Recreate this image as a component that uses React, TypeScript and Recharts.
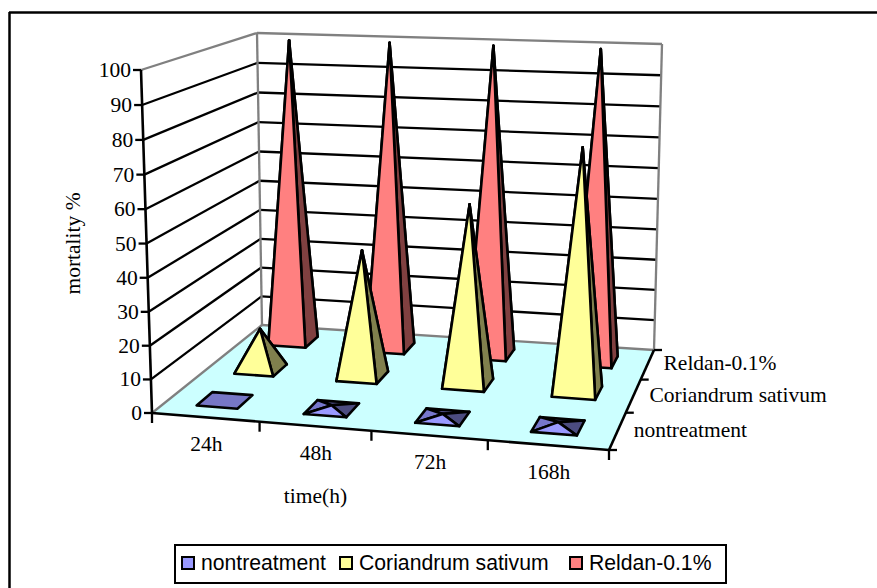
import React from 'react';
import { BarChart, Bar, XAxis, YAxis, Legend } from 'recharts';

const times = ['24h', '48h', '72h', '168h'];
const nontreatment = [0, 1, 1, 1.2];
const coriandrum = [13, 40, 56, 75];
const reldan = [100, 100, 100, 100];
const yTicks = [0, 10, 20, 30, 40, 50, 60, 70, 80, 90, 100];
const depthLabels = ['nontreatment', 'Coriandrum sativum', 'Reldan-0.1%'];

const data = times.map((time, i) => ({
  time,
  nontreatment: nontreatment[i],
  coriandrum: coriandrum[i],
  reldan: reldan[i],
}));

const W = 877;
const H = 588;
const PLOT = { left: 152, top: 70, width: 457, height: 343 };
const SERIF = '"Liberation Serif", serif';
const FONT_SIZE = 21.5;
const BAR = 44;

// floor corners: front left, front right, back right, back left
const Q = [[152, 413], [609, 450], [654, 350], [262, 325]];
// what 100% adds at each of those corners
const RISE = [[-11, -343], [12, -362], [8, -306], [-5, -292]];

const homography = () => {
  const [[x0, y0], [x1, y1], [x2, y2], [x3, y3]] = Q;
  const dx1 = x1 - x2, dx2 = x3 - x2, sx = x0 - x1 + x2 - x3;
  const dy1 = y1 - y2, dy2 = y3 - y2, sy = y0 - y1 + y2 - y3;
  const den = dx1 * dy2 - dx2 * dy1;
  const g = (sx * dy2 - dx2 * sy) / den;
  const h = (dx1 * sy - sx * dy1) / den;
  return {
    a: x1 - x0 + g * x1, b: x3 - x0 + h * x3, c: x0,
    d: y1 - y0 + g * y1, e: y3 - y0 + h * y3, f: y0, g, h,
  };
};
const M = homography();

// u along time axis, d into the depth, v = share of the value axis
const project = (u: number, d: number, v: number) => {
  const w = M.g * u + M.h * d + 1;
  const fx = (M.a * u + M.b * d + M.c) / w;
  const fy = (M.d * u + M.e * d + M.f) / w;
  const dp = Math.pow(Math.max(d, 0), 0.8);
  const mix = (k: number) =>
    RISE[0][k] * (1 - u) * (1 - dp) + RISE[1][k] * u * (1 - dp) + RISE[2][k] * u * dp + RISE[3][k] * (1 - u) * dp;
  // slight foreshortening, upper part of the wall spreads a bit more
  const bent = v - 0.024 * v * (1 - v);
  return [fx + mix(0) * bent, fy + mix(1) * bent];
};

const pts = (list: number[][]) => list.map((p) => p.map((n) => n.toFixed(1)).join(',')).join(' ');

const Seg = ({ a, b, color = '#000', w = 2.3 }: any) => (
  <line x1={a[0]} y1={a[1]} x2={b[0]} y2={b[1]} stroke={color} strokeWidth={w} />
);

const Walls = () => {
  const GRAY = '#808080';
  return (
    <g>
      <line x1={9.5} y1={12} x2={9.5} y2={H} stroke="#000" strokeWidth={2.5} />
      <line x1={9} y1={12.5} x2={W} y2={12.5} stroke="#000" strokeWidth={2.5} />
      <polygon points={pts([project(0, 0, 0), project(1, 0, 0), project(1, 1, 0), project(0, 1, 0)])} fill="#CCFFFF" />
      {yTicks.slice(1, -1).map((t) => (
        <g key={t}>
          <Seg a={project(0, 0, t / 100)} b={project(0, 1, t / 100)} />
          <Seg a={project(0, 1, t / 100)} b={project(1, 1, t / 100)} />
        </g>
      ))}
      <Seg a={project(0, 0, 1)} b={project(0, 1, 1)} color={GRAY} />
      <Seg a={project(0, 1, 1)} b={project(1, 1, 1)} color={GRAY} />
      <Seg a={project(0, 1, 0)} b={project(0, 1, 1)} color={GRAY} />
      <Seg a={project(1, 1, 0)} b={project(1, 1, 1)} color={GRAY} />
      <Seg a={project(0, 0, 0)} b={project(0, 1, 0)} color={GRAY} />
      <Seg a={project(0, 1, 0)} b={project(1, 1, 0)} color={GRAY} />
      <Seg a={project(0, 0, 0)} b={project(0, 0, 1)} w={2.6} />
      <Seg a={project(0, 0, 0)} b={project(1, 0, 0)} w={2.6} />
      <Seg a={project(1, 0, 0)} b={project(1, 1, 0)} w={2.6} />
      {[0, 1, 2, 3].map((i) => {
        const p = project(1, i / 3, 0);
        return <Seg key={i} a={p} b={[p[0] + 8, p[1]]} />;
      })}
      {depthLabels.map((label, i) => {
        const p = project(1, (i + 0.5) / 3, 0);
        return (
          <text key={label} x={p[0] + 16} y={p[1] + 6} fontFamily={SERIF} fontSize={FONT_SIZE} fill="#000">
            {label}
          </text>
        );
      })}
    </g>
  );
};

const XTick = ({ x, payload }: any) => {
  const u = (x - PLOT.left) / PLOT.width;
  const p = project(u, 0, 0);
  const edge = project(u + 0.5 / times.length, 0, 0);
  return (
    <g>
      <Seg a={edge} b={[edge[0], edge[1] + 10]} />
      {payload.index === 0 && <Seg a={project(0, 0, 0)} b={[PLOT.left, 423]} />}
      <text x={p[0] + 1} y={p[1] + 34} textAnchor="middle" fontFamily={SERIF} fontSize={FONT_SIZE} fill="#000">
        {payload.value}
      </text>
    </g>
  );
};

const YTick = ({ y, payload }: any) => {
  const p = project(0, 0, (PLOT.top + PLOT.height - y) / PLOT.height);
  return (
    <g>
      <Seg a={[p[0] - 8, p[1]]} b={p} />
      <text x={p[0] - 10} y={p[1] + 7} textAnchor="end" fontFamily={SERIF} fontSize={FONT_SIZE} fill="#000">
        {payload.value}
      </text>
    </g>
  );
};

const makePyramid = (depth: number, front: string, left: string, dark: string, flat: string) => (props: any) => {
  const { x, width, height } = props;
  const u = (x + width / 2 - PLOT.left) / PLOT.width;
  const du = width / 2 / PLOT.width;
  const d = (depth + 0.5) / 3;
  const dd = 0.068;
  const v = Math.abs(height) / PLOT.height;
  const fl = project(u - du, d - dd, 0);
  const fr = project(u + du, d - dd, 0);
  const br = project(u + du, d + dd, 0);
  const bl = project(u - du, d + dd, 0);
  const apex = project(u, d, v);
  const common = { stroke: '#000', strokeWidth: 2.6, strokeLinejoin: 'round' as const };
  if (v === 0) return <polygon points={pts([fl, fr, br, bl])} fill={flat} {...common} />;
  return (
    <g>
      <polygon points={pts([bl, br, apex])} fill={dark} {...common} />
      <polygon points={pts([fl, bl, apex])} fill={left} {...common} />
      <polygon points={pts([fr, br, apex])} fill={dark} {...common} />
      <polygon points={pts([fl, fr, apex])} fill={front} {...common} />
    </g>
  );
};

const legendItems = [
  { name: 'nontreatment', color: '#9999FF', left: 5 },
  { name: 'Coriandrum sativum', color: '#FFFF99', left: 163 },
  { name: 'Reldan-0.1%', color: '#FF8080', left: 393 },
];

const LegendBox = () => (
  <div style={{ position: 'relative', width: 549, height: 36, border: '2.5px solid #000', background: '#fff' }}>
    {legendItems.map((it) => (
      <div
        key={it.name}
        style={{
          position: 'absolute', left: it.left, top: 4, display: 'flex', alignItems: 'center',
          fontFamily: '"Liberation Sans", sans-serif', fontSize: 21.2, lineHeight: '26px', color: '#000', whiteSpace: 'nowrap',
        }}
      >
        <span style={{ width: 10, height: 10, flexShrink: 0, background: it.color, border: '2.5px solid #000', marginRight: 6, display: 'inline-block' }} />
        {it.name}
      </div>
    ))}
  </div>
);

export default function App() {
  return (
    <div style={{ position: 'absolute', left: 0, top: 0, width: W, height: H, background: '#fff' }}>
      <BarChart
        width={W}
        height={H}
        data={data}
        margin={{ top: PLOT.top, left: PLOT.left - 60, right: W - PLOT.left - PLOT.width, bottom: H - PLOT.top - PLOT.height - 30 }}
        barSize={BAR}
        barGap={-BAR}
      >
        <Walls />
        <XAxis
          dataKey="time"
          height={30}
          axisLine={false}
          tickLine={false}
          interval={0}
          tick={<XTick />}
          label={{ value: 'time(h)', position: 'bottom', offset: 45, dx: -65, fontFamily: SERIF, fontSize: FONT_SIZE, fill: '#000' }}
        />
        <YAxis
          width={60}
          domain={[0, 100]}
          ticks={yTicks}
          interval={0}
          axisLine={false}
          tickLine={false}
          tick={<YTick />}
          label={{ value: 'mortality %', angle: -90, position: 'left', offset: 20, dy: 2, textAnchor: 'middle', fontFamily: SERIF, fontSize: FONT_SIZE, fill: '#000' }}
        />
        <Legend
          layout="horizontal"
          verticalAlign="middle"
          align="center"
          wrapperStyle={{ left: 174, top: 544, width: 553, height: 40 }}
          content={<LegendBox />}
        />
        <Bar dataKey="reldan" name="Reldan-0.1%" fill="#FF8080" isAnimationActive={false} shape={makePyramid(2, '#FF8080', '#CC6666', '#804040', '#CC6666')} />
        <Bar dataKey="coriandrum" name="Coriandrum sativum" fill="#FFFF99" isAnimationActive={false} shape={makePyramid(1, '#FFFF99', '#CCCC7A', '#80804D', '#CCCC7A')} />
        <Bar dataKey="nontreatment" name="nontreatment" fill="#9999FF" isAnimationActive={false} shape={makePyramid(0, '#9999FF', '#7777CC', '#4C4C80', '#7777C6')} />
      </BarChart>
    </div>
  );
}
